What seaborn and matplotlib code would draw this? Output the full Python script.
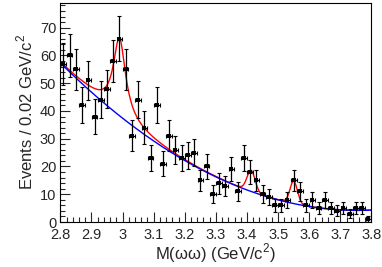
import numpy as np
import pandas as pd
import matplotlib
matplotlib.use("Agg")
import matplotlib.pyplot as plt
from matplotlib.ticker import MultipleLocator
import seaborn as sns

# histogram: 50 bins of 0.02 GeV from 2.8 to 3.8
bin_lo = 2.8
bin_w = 0.02
counts = [57, 60, 55, 42, 51, 38, 44, 48, 58, 66,
          55, 31, 44, 34, 23, 42, 21, 31, 26, 23,
          24, 25, 15, 20, 10, 14, 13, 19, 11, 23,
          18, 15, 10, 9, 6, 6, 8, 15, 11, 6,
          8, 5, 8, 5, 4, 5, 3, 5, 5, 1]

# fit result
bkg_coef = [57.3, -111.2, 58.2]          # quadratic in (m - 2.8)
etac_mass, etac_amp, etac_width = 2.990, 28.0, 0.048   # Breit-Wigner
chic_mass = [3.413, 3.550]               # chi_c0, chi_c2 (gaussian)
chic_amp = [7.5, 8.0]
chic_sigma = [0.013, 0.012]

centers = bin_lo + bin_w * (np.arange(len(counts)) + 0.5)
df = pd.DataFrame({"m": centers, "n": counts})
df["err"] = np.sqrt(df["n"])


def bkg(m):
    t = m - 2.8
    return bkg_coef[0] + bkg_coef[1] * t + bkg_coef[2] * t ** 2


def total(m):
    hw = etac_width / 2
    y = bkg(m) + etac_amp * hw ** 2 / ((m - etac_mass) ** 2 + hw ** 2)
    for m0, a, s in zip(chic_mass, chic_amp, chic_sigma):
        y = y + a * np.exp(-0.5 * ((m - m0) / s) ** 2)
    return y


mm = np.linspace(2.8, 3.8, 600)
curves = pd.DataFrame({"m": mm, "tot": total(mm), "bkg": bkg(mm)})

sns.set_style("ticks")
plt.rcParams["font.family"] = ["Liberation Sans", "DejaVu Sans"]
plt.rcParams["mathtext.fontset"] = "custom"
plt.rcParams["mathtext.rm"] = "Liberation Sans"

fig = plt.figure(figsize=(3.82, 2.67), dpi=100)
ax = fig.add_axes([0.158, 0.1685, 0.8145, 0.8215])

sns.lineplot(data=curves, x="m", y="tot", color="red", lw=1.0, ax=ax)
sns.lineplot(data=curves, x="m", y="bkg", color="blue", lw=1.0, ax=ax)

ax.errorbar(df["m"], df["n"], yerr=df["err"], xerr=0.009, fmt="none",
            ecolor="black", elinewidth=0.9, capsize=1.2, capthick=0.8)
sns.scatterplot(data=df, x="m", y="n", marker="s", s=8, color="black",
                edgecolor="black", linewidth=0, ax=ax, zorder=5)

ax.set_xlim(2.8, 3.8)
ax.set_ylim(0, 79)
ax.xaxis.set_minor_locator(MultipleLocator(0.02))
ax.yaxis.set_major_locator(MultipleLocator(10))
ax.yaxis.set_minor_locator(MultipleLocator(2))
ax.set_xticks(np.arange(2.8, 3.81, 0.1))
ax.set_xticklabels(["2.8", "2.9", "3", "3.1", "3.2", "3.3", "3.4", "3.5", "3.6", "3.7", "3.8"])
ax.tick_params(which="major", direction="in", length=7, width=0.8, labelsize=10.5, pad=3)
ax.tick_params(axis="x", which="major", pad=4)
ax.tick_params(which="minor", direction="in", length=3.5, width=0.8)
for s in ax.spines.values():
    s.set_linewidth(0.8)
    s.set_color("black")

ax.set_xlabel("M(\u03c9\u03c9) (GeV/c$^2$)", fontsize=12, labelpad=0)
ax.set_ylabel("Events / 0.02 GeV/c$^2$", fontsize=12, labelpad=3)

fig.savefig("out.png", dpi=100)
